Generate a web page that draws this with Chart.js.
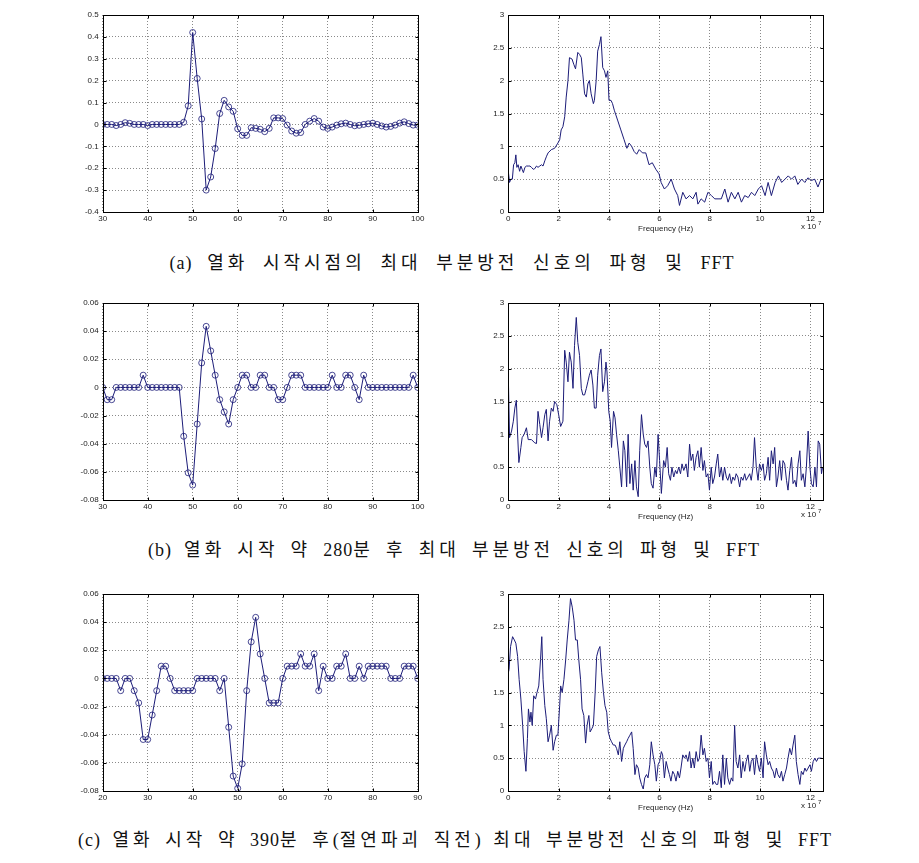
<!DOCTYPE html>
<html lang="ko">
<head>
<meta charset="UTF-8" />
<title>부분방전 신호의 파형 및 FFT</title>
<script src="https://cdn.jsdelivr.net/npm/chart.js"></script>
<style>
  body {
    margin: 0;
    background: #fff;
    width: 919px;
    height: 863px;
    position: relative;
    overflow: hidden;
  }
  canvas { position: absolute; }
  .caption {
    position: absolute;
    display: inline-block;
    white-space: nowrap;
    font-family: "Liberation Serif", "Noto Sans CJK KR", serif;
    font-size: 18px;
    line-height: 20px;
    letter-spacing: 4px;
    color: #111;
  }
  .caption .lat { letter-spacing: 1px; }
</style>
</head>
<body>
<canvas id="waveA" width="380" height="239" style="left:60px;top:5px"></canvas>
<canvas id="fftA" width="380" height="239" style="left:470px;top:5px"></canvas>
<span class="caption" data-w="565" data-cx="452" style="top:253px"><span class="lat">(a)</span> 열화 시작시점의 최대 부분방전 신호의 파형 및 <span class="lat">FFT</span></span>

<canvas id="waveB" width="380" height="239" style="left:60px;top:293px"></canvas>
<canvas id="fftB" width="380" height="239" style="left:470px;top:293px"></canvas>
<span class="caption" data-w="612" data-cx="454" style="top:540px"><span class="lat">(b)</span> 열화 시작 약 <span class="lat">280</span>분 후 최대 부분방전 신호의 파형 및 <span class="lat">FFT</span></span>

<canvas id="waveC" width="380" height="239" style="left:60px;top:584px"></canvas>
<canvas id="fftC" width="380" height="239" style="left:470px;top:584px"></canvas>
<span class="caption" data-w="754" data-cx="455" style="top:830px"><span class="lat">(c)</span> 열화 시작 약 <span class="lat">390</span>분 후<span class="lat">(</span>절연파괴 직전<span class="lat">)</span> 최대 부분방전 신호의 파형 및 <span class="lat">FFT</span></span>

<script>
// ---- data: waveform samples ----
const sampleAB = [30,31,32,33,34,35,36,37,38,39,40,41,42,43,44,45,46,47,48,49,50,
  51,52,53,54,55,56,57,58,59,60,61,62,63,64,65,66,67,68,69,70,71,72,73,74,75,
  76,77,78,79,80,81,82,83,84,85,86,87,88,89,90,91,92,93,94,95,96,97,98,99,100];
const waveA = [0,0,0,-0.005,0,0.008,0.005,0,0,0,-0.005,0,0,0,0,0,0,0,0.01,0.085,0.42,
  0.21,0.025,-0.3,-0.24,-0.11,0.05,0.11,0.08,0.06,-0.02,-0.05,-0.05,-0.015,-0.018,-0.022,
  -0.033,-0.018,0.03,0.03,0.027,-0.003,-0.03,-0.04,-0.037,0,0.015,0.027,0.015,-0.012,
  -0.018,-0.012,-0.003,0.003,0.006,0,-0.006,-0.004,0,0.003,0.006,0,-0.007,-0.012,-0.009,
  -0.003,0.006,0.012,0.004,-0.003,-0.003];
const waveB = [0,-0.0087,-0.0087,0,0,0,0,0,0,0.0087,0,0,0,0,0,0,0,0,-0.0347,-0.0607,-0.0694,
  -0.026,0.0174,0.0434,0.026,0.0087,-0.0087,-0.0174,-0.026,-0.0087,0,0.0087,0.0087,0,0,
  0.0087,0.0087,0,0,-0.0087,-0.0087,0,0.0087,0.0087,0.0087,0,0,0,0,0,0,0.0087,0,0,
  0.0087,0.0087,0,-0.0087,0.0087,0,0,0,0,0,0,0,0,0,0,0.0087,0];
const sampleC = [20,21,22,23,24,25,26,27,28,29,30,31,32,33,34,35,36,37,38,39,40,
  41,42,43,44,45,46,47,48,49,50,51,52,53,54,55,56,57,58,59,60,61,62,63,64,65,
  66,67,68,69,70,71,72,73,74,75,76,77,78,79,80,81,82,83,84,85,86,87,88,89,90];
const waveC = [0,0,0,0,-0.0087,0,0,-0.0087,-0.0174,-0.0434,-0.0434,-0.026,-0.0087,0.0087,
  0.0087,0,-0.0087,-0.0087,-0.0087,-0.0087,-0.0087,0,0,0,0,0,-0.0087,0,-0.0347,-0.0694,
  -0.0781,-0.0607,-0.0087,0.026,0.0434,0.0174,0,-0.0174,-0.0174,-0.0174,0,0.0087,0.0087,
  0.0087,0.0174,0.0087,0.0087,0.0174,-0.0087,0.0087,0,0,0.0087,0.0087,0.0174,0,0,0.0087,
  0,0.0087,0.0087,0.0087,0.0087,0.0087,0,0,0,0.0087,0.0087,0.0087,0];

// ---- data: FFT magnitude, [frequency (x10^7 Hz), magnitude] ----
const fftA = [[0,0.62],[0.05,0.45],[0.1,0.5],[0.16,0.5],[0.21,0.72],[0.26,0.75],[0.3,0.87],
  [0.34,0.68],[0.39,0.72],[0.45,0.62],[0.5,0.7],[0.55,0.65],[0.6,0.6],[0.66,0.68],[0.72,0.7],
  [0.79,0.7],[0.86,0.7],[0.92,0.68],[0.99,0.65],[1.05,0.66],[1.12,0.7],[1.18,0.68],[1.25,0.7],
  [1.32,0.72],[1.38,0.7],[1.45,0.78],[1.52,0.85],[1.58,0.9],[1.71,0.95],[1.84,0.97],[1.97,1.05],
  [2.04,1.1],[2.1,1.25],[2.17,1.3],[2.24,1.45],[2.3,1.75],[2.37,2.0],[2.43,2.35],[2.53,2.33],
  [2.6,2.25],[2.67,2.18],[2.76,2.43],[2.83,2.4],[2.9,2.35],[2.96,2.1],[3.03,1.8],[3.1,1.75],
  [3.16,1.95],[3.22,2.0],[3.29,1.8],[3.38,1.65],[3.42,1.7],[3.49,2.0],[3.55,2.45],[3.62,2.55],
  [3.68,2.67],[3.75,2.2],[3.82,2.15],[3.88,2.05],[3.95,2.15],[4.0,1.7],[4.08,1.7],[4.14,1.65],
  [4.21,1.55],[4.34,1.4],[4.47,1.25],[4.6,1.1],[4.71,0.97],[4.8,1.05],[4.9,1.0],[5.0,0.92],
  [5.1,0.88],[5.2,0.95],[5.33,0.9],[5.46,0.9],[5.59,0.72],[5.72,0.75],[5.86,0.65],[5.99,0.58],
  [6.07,0.45],[6.2,0.35],[6.33,0.4],[6.47,0.5],[6.6,0.35],[6.73,0.25],[6.8,0.1],[6.93,0.3],
  [7.06,0.2],[7.2,0.25],[7.33,0.2],[7.46,0.3],[7.53,0.12],[7.66,0.2],[7.8,0.15],[7.93,0.3],
  [8.07,0.25],[8.2,0.2],[8.33,0.2],[8.46,0.2],[8.6,0.35],[8.73,0.15],[8.86,0.3],[9.0,0.2],
  [9.13,0.3],[9.26,0.15],[9.39,0.25],[9.53,0.22],[9.66,0.3],[9.79,0.25],[9.93,0.35],[10.06,0.4],
  [10.2,0.25],[10.32,0.45],[10.45,0.25],[10.6,0.45],[10.73,0.55],[10.86,0.45],[10.99,0.5],
  [11.12,0.55],[11.25,0.5],[11.38,0.55],[11.5,0.42],[11.65,0.5],[11.78,0.45],[11.9,0.52],
  [12.04,0.48],[12.17,0.5],[12.3,0.38],[12.42,0.5]];

const fftB = [[0,1.9],[0.05,0.95],[0.13,1.05],[0.2,1.2],[0.26,1.4],[0.32,1.52],[0.37,1.0],
  [0.42,0.57],[0.5,0.8],[0.55,0.95],[0.63,1.0],[0.72,1.1],[0.79,0.92],[0.92,0.92],[1.05,0.87],
  [1.12,0.86],[1.18,1.35],[1.25,1.15],[1.32,0.95],[1.38,1.1],[1.45,1.3],[1.51,1.38],[1.58,0.9],
  [1.64,1.2],[1.71,1.4],[1.78,1.35],[1.84,1.5],[1.93,1.45],[2.0,1.3],[2.08,1.12],[2.17,1.2],
  [2.24,2.28],[2.3,2.1],[2.37,1.8],[2.43,2.25],[2.5,2.1],[2.57,1.7],[2.63,2.35],[2.7,2.78],
  [2.76,2.4],[2.83,2.2],[2.9,1.7],[2.96,1.6],[3.03,1.6],[3.1,1.7],[3.16,1.8],[3.22,1.9],
  [3.29,1.98],[3.36,1.75],[3.42,1.4],[3.49,1.4],[3.55,1.9],[3.62,2.2],[3.68,2.3],[3.75,1.65],
  [3.82,1.8],[3.88,2.1],[3.92,1.95],[3.99,1.35],[4.05,1.2],[4.1,0.8],[4.18,1.35],[4.24,1.25],
  [4.3,1.0],[4.37,0.75],[4.43,0.5],[4.5,0.2],[4.57,0.9],[4.63,0.75],[4.7,0.2],[4.76,1.0],
  [4.83,0.25],[4.9,0.55],[4.96,0.15],[5.03,0.6],[5.09,0.2],[5.16,0.05],[5.22,0.75],[5.29,1.3],
  [5.36,1.0],[5.42,0.85],[5.49,0.8],[5.55,0.9],[5.62,0.5],[5.68,0.25],[5.75,0.18],[5.82,0.5],
  [5.88,0.35],[5.95,1.0],[6.01,0.6],[6.08,0.1],[6.17,0.6],[6.24,0.5],[6.31,0.8],[6.37,0.4],
  [6.44,0.3],[6.5,0.5],[6.57,0.35],[6.64,0.45],[6.7,0.4],[6.77,0.5],[6.84,0.4],[6.9,0.55],
  [6.97,0.45],[7.06,0.55],[7.13,0.35],[7.2,0.85],[7.26,0.6],[7.33,0.7],[7.39,0.45],[7.46,0.65],
  [7.53,0.75],[7.59,0.5],[7.66,0.8],[7.73,0.45],[7.79,0.6],[7.86,0.35],[7.93,0.4],[7.99,0.15],
  [8.06,0.5],[8.12,0.25],[8.19,0.35],[8.26,0.55],[8.32,0.7],[8.39,0.35],[8.46,0.5],[8.52,0.3],
  [8.59,0.5],[8.66,0.35],[8.72,0.3],[8.79,0.4],[8.86,0.25],[8.92,0.35],[8.99,0.3],[9.05,0.4],
  [9.12,0.35],[9.19,0.2],[9.25,0.35],[9.32,0.3],[9.39,0.4],[9.45,0.3],[9.52,0.35],[9.59,0.4],
  [9.65,0.3],[9.72,0.5],[9.78,0.95],[9.85,0.5],[9.92,0.3],[9.98,0.55],[10.05,0.45],[10.12,0.55],
  [10.18,0.3],[10.25,0.4],[10.32,0.65],[10.38,0.3],[10.45,0.75],[10.52,0.55],[10.58,0.8],
  [10.65,0.2],[10.71,0.35],[10.78,0.6],[10.85,0.3],[10.91,0.6],[10.98,0.55],[11.05,0.3],
  [11.11,0.15],[11.18,0.45],[11.25,0.65],[11.31,0.25],[11.38,0.3],[11.44,0.2],[11.51,0.55],
  [11.58,0.75],[11.64,0.3],[11.71,0.4],[11.78,0.2],[11.84,0.5],[11.91,1.05],[11.98,0.5],
  [12.04,0.25],[12.11,0.2],[12.18,0.5],[12.24,0.2],[12.31,0.9],[12.37,0.85],[12.44,0.4],[12.48,0.5]];

const fftC = [[0,1.8],[0.03,1.85],[0.09,2.2],[0.17,2.35],[0.24,2.3],[0.3,2.25],[0.37,2.05],
  [0.43,1.7],[0.5,1.4],[0.57,1.0],[0.63,0.6],[0.7,0.3],[0.76,0.8],[0.8,1.25],[0.86,1.05],
  [0.9,1.2],[0.95,1.0],[1.01,1.45],[1.08,1.4],[1.14,1.5],[1.21,1.6],[1.28,2.0],[1.33,2.35],
  [1.38,1.7],[1.45,1.3],[1.51,1.1],[1.58,0.75],[1.64,0.85],[1.71,1.0],[1.78,0.62],[1.84,0.75],
  [1.91,0.85],[1.97,0.85],[2.04,1.3],[2.08,1.6],[2.14,1.5],[2.21,1.7],[2.28,2.0],[2.34,2.3],
  [2.41,2.6],[2.47,2.93],[2.54,2.8],[2.61,2.6],[2.67,2.3],[2.74,2.3],[2.8,2.0],[2.87,1.7],
  [2.93,1.25],[3.0,1.15],[3.07,0.73],[3.13,1.0],[3.2,1.15],[3.25,0.9],[3.32,0.95],[3.38,1.0],
  [3.45,1.5],[3.51,2.05],[3.58,2.15],[3.64,2.2],[3.71,1.8],[3.78,1.5],[3.84,1.3],[3.91,1.2],
  [3.97,0.9],[4.04,0.8],[4.1,0.75],[4.17,0.7],[4.24,0.7],[4.3,0.65],[4.37,0.55],[4.43,0.75],
  [4.5,0.45],[4.57,0.65],[4.63,0.7],[4.7,0.75],[4.76,0.8],[4.83,0.85],[4.9,0.9],[4.96,0.65],
  [5.03,0.25],[5.09,0.4],[5.16,0.35],[5.22,0.2],[5.29,0.1],[5.36,0.03],[5.42,0.2],[5.49,0.25],
  [5.55,0.2],[5.62,0.4],[5.68,0.75],[5.75,0.55],[5.82,0.4],[5.88,0.15],[5.95,0.4],[6.01,0.45],
  [6.08,0.6],[6.13,0.55],[6.2,0.2],[6.27,0.45],[6.33,0.35],[6.4,0.25],[6.46,0.15],[6.53,0.3],
  [6.6,0.25],[6.66,0.15],[6.73,0.3],[6.8,0.2],[6.86,0.35],[6.93,0.55],[7.0,0.5],[7.06,0.55],
  [7.13,0.45],[7.2,0.6],[7.26,0.35],[7.33,0.5],[7.39,0.35],[7.46,0.6],[7.53,0.45],[7.59,0.5],
  [7.66,0.85],[7.73,0.55],[7.79,0.65],[7.86,0.45],[7.93,0.5],[7.99,0.2],[8.06,0.45],[8.12,0.1],
  [8.19,0.15],[8.26,0.1],[8.32,0.1],[8.39,0.3],[8.46,0.05],[8.52,0.55],[8.59,0.1],[8.66,0.5],
  [8.72,0.2],[8.79,0.1],[8.86,0.2],[8.92,0.15],[8.99,1.0],[9.05,0.45],[9.12,0.35],[9.19,0.55],
  [9.25,0.2],[9.32,0.45],[9.39,0.3],[9.45,0.45],[9.52,0.55],[9.59,0.3],[9.65,0.45],[9.72,0.5],
  [9.78,0.25],[9.85,0.55],[9.92,0.4],[9.98,0.3],[10.05,0.5],[10.12,0.2],[10.18,0.75],[10.25,0.55],
  [10.32,0.4],[10.38,0.45],[10.45,0.35],[10.52,0.3],[10.58,0.2],[10.65,0.35],[10.71,0.25],
  [10.78,0.2],[10.85,0.3],[10.91,0.15],[10.98,0.25],[11.05,0.35],[11.11,0.5],[11.18,0.65],
  [11.25,0.55],[11.31,0.7],[11.38,0.85],[11.44,0.45],[11.51,0.25],[11.58,0.1],[11.64,0.3],
  [11.71,0.25],[11.78,0.35],[11.84,0.3],[11.91,0.35],[11.98,0.4],[12.04,0.3],[12.11,0.45],
  [12.18,0.5],[12.24,0.45],[12.31,0.5],[12.37,0.5],[12.44,0.5]];

// ---- axis ranges ----
const waveAY = { min: -0.4, max: 0.5, step: 0.1 };
const waveBCY = { min: -0.08, max: 0.06, step: 0.02 };
const fftY = { min: 0, max: 3, step: 0.5 };
const fftX = { min: 0, max: 12.5, step: 2 };

const LINE = '#1c1c78';
const TICK_FONT = { family: '"Liberation Sans", Arial, sans-serif', size: 8 };
const fmt = v => String(Number(v.toFixed(4)));

// box around plot + inward tick marks, MATLAB style
const matlabAxes = {
  id: 'matlabAxes',
  afterDraw(chart, args, opts) {
    const { ctx, chartArea: a, scales: { x, y } } = chart;
    ctx.save();
    ctx.strokeStyle = '#000';
    ctx.lineWidth = 1;
    const L = Math.round(a.left) + 0.5, T = Math.round(a.top) + 0.5;
    const R = Math.round(a.right) + 0.5, B = Math.round(a.bottom) + 0.5;
    ctx.strokeRect(L, T, R - L, B - T);
    ctx.beginPath();
    x.ticks.forEach(t => {
      const px = Math.round(x.getPixelForValue(t.value)) + 0.5;
      ctx.moveTo(px, B); ctx.lineTo(px, B - 3);
      ctx.moveTo(px, T); ctx.lineTo(px, T + 3);
    });
    y.ticks.forEach(t => {
      const py = Math.round(y.getPixelForValue(t.value)) + 0.5;
      ctx.moveTo(L, py); ctx.lineTo(L + 3, py);
      ctx.moveTo(R, py); ctx.lineTo(R - 3, py);
    });
    ctx.stroke();
    if (opts.freq) {
      ctx.fillStyle = '#222';
      ctx.textBaseline = 'middle';
      ctx.textAlign = 'center';
      ctx.font = '8px "Liberation Sans", Arial, sans-serif';
      ctx.fillText('Frequency (Hz)', (a.left + a.right) / 2, a.bottom + 17);
      ctx.textAlign = 'left';
      ctx.fillText('x 10', a.right - 22, a.bottom + 15);
      ctx.font = '6px "Liberation Sans", Arial, sans-serif';
      ctx.fillText('7', a.right - 5, a.bottom + 11);
    }
    ctx.restore();
  }
};
Chart.register(matlabAxes);

function makeChart(id, points, xr, yr, opt) {
  return new Chart(document.getElementById(id), {
    type: 'scatter',
    data: {
      datasets: [{
        data: points,
        showLine: true,
        borderColor: LINE,
        borderWidth: 1,
        pointRadius: opt.markers ? 3 : 0,
        pointBorderWidth: 0.8,
        pointBorderColor: LINE,
        pointBackgroundColor: 'rgba(0,0,0,0)',
        tension: 0
      }]
    },
    options: {
      responsive: false,
      animation: false,
      events: [],
      layout: { padding: { left: opt.padL, right: opt.padR, top: 10, bottom: 0 } },
      plugins: {
        legend: { display: false },
        tooltip: { enabled: false },
        matlabAxes: { freq: !!opt.freq }
      },
      scales: {
        x: {
          type: 'linear',
          min: xr.min, max: xr.max,
          ticks: { stepSize: xr.step, includeBounds: false, font: TICK_FONT, color: '#222',
                   padding: 2, maxRotation: 0, callback: fmt },
          grid: { color: '#8a8a8a', drawTicks: false },
          border: { display: false, dash: [1, 2] },
          afterFit(s) { s.height = 32; s.paddingLeft = 0; s.paddingRight = 0; }
        },
        y: {
          type: 'linear',
          min: yr.min, max: yr.max,
          ticks: { stepSize: yr.step, includeBounds: false, font: TICK_FONT, color: '#222',
                   padding: 4, callback: fmt },
          grid: { color: '#8a8a8a', drawTicks: false },
          border: { display: false, dash: [1, 2] },
          afterFit(s) { s.width = opt.yW; s.paddingTop = 0; s.paddingBottom = 0; }
        }
      }
    }
  });
}

const pairs = (xs, ys) => xs.map((v, i) => ({ x: v, y: ys[i] }));
const toPts = arr => arr.map(p => ({ x: p[0], y: p[1] }));

const leftOpt = { markers: true, padL: 2.7, padR: 22.3, yW: 40 };
const rightOpt = { markers: false, freq: true, padL: 8.3, padR: 27, yW: 30 };

makeChart('waveA', pairs(sampleAB, waveA), { min: 30, max: 100, step: 10 }, waveAY, leftOpt);
makeChart('fftA', toPts(fftA), fftX, fftY, rightOpt);
makeChart('waveB', pairs(sampleAB, waveB), { min: 30, max: 100, step: 10 }, waveBCY, leftOpt);
makeChart('fftB', toPts(fftB), fftX, fftY, rightOpt);
makeChart('waveC', pairs(sampleC, waveC), { min: 20, max: 90, step: 10 }, waveBCY, leftOpt);
makeChart('fftC', toPts(fftC), fftX, fftY, rightOpt);

// adjust the word gaps so each caption spans its printed width
function fitCaptions() {
  document.querySelectorAll('.caption').forEach(el => {
    el.style.wordSpacing = '0px';
    const w = el.getBoundingClientRect().width;
    const target = +el.dataset.w;
    const gaps = el.textContent.split(' ').length - 1;
    el.style.wordSpacing = ((target - w) / gaps) + 'px';
    el.style.left = (+el.dataset.cx - target / 2) + 'px';
  });
}
if (document.fonts && document.fonts.ready) document.fonts.ready.then(fitCaptions);
fitCaptions();
</script>
</body>
</html>
